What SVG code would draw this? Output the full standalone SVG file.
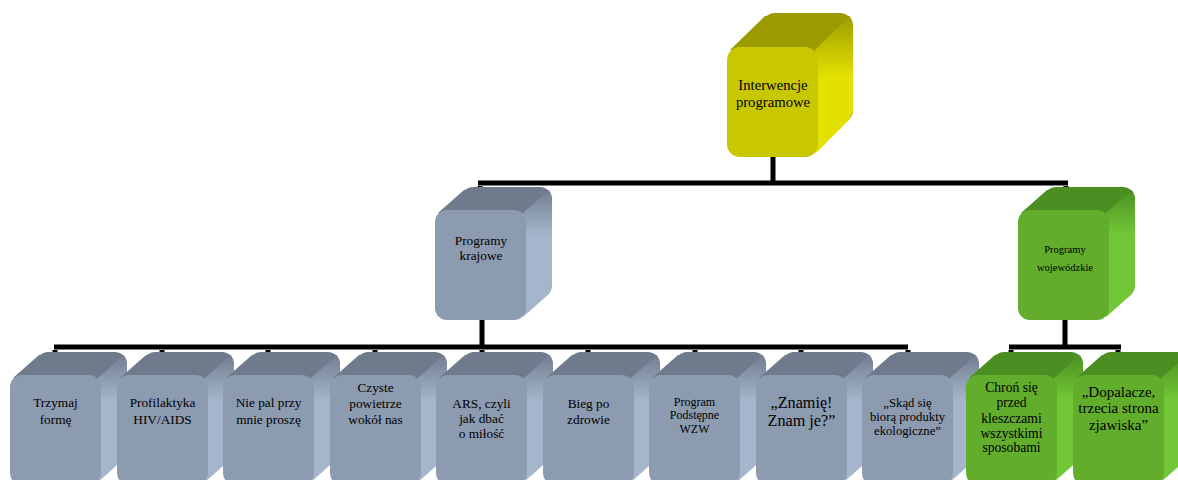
<svg xmlns="http://www.w3.org/2000/svg" width="1178" height="480" viewBox="0 0 1178 480" font-family="'Liberation Serif', 'Times New Roman', serif">
<style>
text{font-family:'Liberation Serif','Times New Roman',serif;fill:#000;text-anchor:middle;font-size:13.3px}
.c{fill:none;stroke:#000;stroke-width:5}
.gt{fill:#6F7B8D}.gf{fill:#8D9BB0}.gs{fill:url(#gs)}
.nt{fill:#4B8E22}.nf{fill:#62AD2B}.ns{fill:url(#ns)}
.yt{fill:#9B9B00}.yf{fill:#C9C700}.ys{fill:url(#ys)}
.f12{font-size:12px}.f127{font-size:12.7px}.f10{font-size:10.5px}.f14{font-size:14.7px}.f135{font-size:13.6px}.f15{font-size:15px}.f17{font-size:16.2px}
</style>
<defs>
<linearGradient id="gs" gradientUnits="userSpaceOnUse" x1="0" y1="-23" x2="0" y2="25"><stop offset="0" stop-color="#6F7B8D"/><stop offset="1" stop-color="#A5B5CB"/></linearGradient>
<linearGradient id="ns" gradientUnits="userSpaceOnUse" x1="0" y1="-23" x2="0" y2="25"><stop offset="0" stop-color="#4B8E22"/><stop offset="1" stop-color="#72C736"/></linearGradient>
<linearGradient id="ys" gradientUnits="userSpaceOnUse" x1="0" y1="-34" x2="0" y2="30"><stop offset="0" stop-color="#9B9B00"/><stop offset="1" stop-color="#E2E100"/></linearGradient>
</defs>
<g id="connectors">
<path class="c" d="M773,157V183M478,183H1068M480,186V212M1066,186V212"/>
<path class="c" d="M482,320V347M54,347H908M55,350V378M162,350V378M268,350V378M375,350V378M482,350V378M588,350V378M695,350V378M801,350V378M908,350V378"/>
<path class="c" d="M1065,320V347M1009,347H1121M1011,350V378M1118,350V378"/>
</g>
<g id="n-interwencje" transform="translate(727,47)">
<rect class="yt" x="35" y="-34" width="91" height="110" rx="13"/>
<polygon class="yt" points="3,3 38,-31 123,-31 88,3"/>
<polygon class="ys" points="88,3 123,-31 126,-20 126,64 122,73 88,107"/>
<rect class="yf" x="0" y="0" width="91" height="110" rx="13"/>
<text class="f14" x="46" y="43">Interwencje</text><text class="f14" x="46" y="60">programowe</text>
</g>
<g id="n-krajowe" transform="translate(435,210)">
<rect class="gt" x="26" y="-23" width="91" height="110" rx="12"/>
<polygon class="gt" points="3,3 29,-20 114,-20 88,3"/>
<polygon class="gs" points="88,3 114,-20 117,-10 117,76 114,84 88,107"/>
<rect class="gf" x="0" y="0" width="91" height="110" rx="12"/>
<text x="46" y="35">Programy</text><text x="46" y="50">krajowe</text>
</g>
<g id="n-wojewodzkie" transform="translate(1018,210)">
<rect class="nt" x="26" y="-23" width="91" height="110" rx="12"/>
<polygon class="nt" points="3,3 29,-20 114,-20 88,3"/>
<polygon class="ns" points="88,3 114,-20 117,-10 117,76 114,84 88,107"/>
<rect class="nf" x="0" y="0" width="91" height="110" rx="12"/>
<text class="f10" x="47" y="42.5">Programy</text><text class="f10" x="47" y="60.5">wojewódzkie</text>
</g>
<g id="n1" transform="translate(10,375)">
<rect class="gt" x="26" y="-23" width="91" height="110" rx="12"/>
<polygon class="gt" points="3,3 29,-20 114,-20 88,3"/>
<polygon class="gs" points="88,3 114,-20 117,-10 117,76 114,84 88,107"/>
<rect class="gf" x="0" y="0" width="91" height="110" rx="12"/>
<text x="45.5" y="32">Trzymaj</text><text x="45.5" y="49">formę</text>
</g>
<g id="n2" transform="translate(117,375)">
<rect class="gt" x="26" y="-23" width="91" height="110" rx="12"/>
<polygon class="gt" points="3,3 29,-20 114,-20 88,3"/>
<polygon class="gs" points="88,3 114,-20 117,-10 117,76 114,84 88,107"/>
<rect class="gf" x="0" y="0" width="91" height="110" rx="12"/>
<text x="45.5" y="32">Profilaktyka</text><text x="45.5" y="49">HIV/AIDS</text>
</g>
<g id="n3" transform="translate(223,375)">
<rect class="gt" x="26" y="-23" width="91" height="110" rx="12"/>
<polygon class="gt" points="3,3 29,-20 114,-20 88,3"/>
<polygon class="gs" points="88,3 114,-20 117,-10 117,76 114,84 88,107"/>
<rect class="gf" x="0" y="0" width="91" height="110" rx="12"/>
<text x="45.5" y="32">Nie pal przy</text><text x="45.5" y="49">mnie proszę</text>
</g>
<g id="n4" transform="translate(330,375)">
<rect class="gt" x="26" y="-23" width="91" height="110" rx="12"/>
<polygon class="gt" points="3,3 29,-20 114,-20 88,3"/>
<polygon class="gs" points="88,3 114,-20 117,-10 117,76 114,84 88,107"/>
<rect class="gf" x="0" y="0" width="91" height="110" rx="12"/>
<text x="45.5" y="17">Czyste</text><text x="45.5" y="33">powietrze</text><text x="45.5" y="49">wokół nas</text>
</g>
<g id="n5" transform="translate(436,375)">
<rect class="gt" x="26" y="-23" width="91" height="110" rx="12"/>
<polygon class="gt" points="3,3 29,-20 114,-20 88,3"/>
<polygon class="gs" points="88,3 114,-20 117,-10 117,76 114,84 88,107"/>
<rect class="gf" x="0" y="0" width="91" height="110" rx="12"/>
<text x="45.5" y="33">ARS, czyli</text><text x="45.5" y="48">jak dbać</text><text x="45.5" y="63">o miłość</text>
</g>
<g id="n6" transform="translate(543,375)">
<rect class="gt" x="26" y="-23" width="91" height="110" rx="12"/>
<polygon class="gt" points="3,3 29,-20 114,-20 88,3"/>
<polygon class="gs" points="88,3 114,-20 117,-10 117,76 114,84 88,107"/>
<rect class="gf" x="0" y="0" width="91" height="110" rx="12"/>
<text x="45.5" y="33">Bieg po</text><text x="45.5" y="49">zdrowie</text>
</g>
<g id="n7" transform="translate(649,375)">
<rect class="gt" x="26" y="-23" width="91" height="110" rx="12"/>
<polygon class="gt" points="3,3 29,-20 114,-20 88,3"/>
<polygon class="gs" points="88,3 114,-20 117,-10 117,76 114,84 88,107"/>
<rect class="gf" x="0" y="0" width="91" height="110" rx="12"/>
<text class="f12" x="45.5" y="31">Program</text><text class="f12" x="45.5" y="44">Podstępne</text><text class="f12" x="45.5" y="58">WZW</text>
</g>
<g id="n8" transform="translate(756,375)">
<rect class="gt" x="26" y="-23" width="91" height="110" rx="12"/>
<polygon class="gt" points="3,3 29,-20 114,-20 88,3"/>
<polygon class="gs" points="88,3 114,-20 117,-10 117,76 114,84 88,107"/>
<rect class="gf" x="0" y="0" width="91" height="110" rx="12"/>
<text class="f17" x="45.5" y="33">„Znamię!</text><text class="f17" x="45.5" y="51">Znam je?”</text>
</g>
<g id="n9" transform="translate(862,375)">
<rect class="gt" x="26" y="-23" width="91" height="110" rx="12"/>
<polygon class="gt" points="3,3 29,-20 114,-20 88,3"/>
<polygon class="gs" points="88,3 114,-20 117,-10 117,76 114,84 88,107"/>
<rect class="gf" x="0" y="0" width="91" height="110" rx="12"/>
<text class="f127" x="45.5" y="32">„Skąd się</text><text class="f127" x="45.5" y="46">biorą produkty</text><text class="f127" x="45.5" y="60">ekologiczne”</text>
</g>
<g id="n10" transform="translate(966,375)">
<rect class="nt" x="26" y="-23" width="91" height="110" rx="12"/>
<polygon class="nt" points="3,3 29,-20 114,-20 88,3"/>
<polygon class="ns" points="88,3 114,-20 117,-10 117,76 114,84 88,107"/>
<rect class="nf" x="0" y="0" width="91" height="110" rx="12"/>
<text class="f135" x="45.5" y="17">Chroń się</text><text class="f135" x="45.5" y="32">przed</text><text class="f135" x="45.5" y="48">kleszczami</text><text class="f135" x="45.5" y="63">wszystkimi</text><text class="f135" x="45.5" y="77">sposobami</text>
</g>
<g id="n11" transform="translate(1073,375)">
<rect class="nt" x="26" y="-23" width="91" height="110" rx="12"/>
<polygon class="nt" points="3,3 29,-20 114,-20 88,3"/>
<polygon class="ns" points="88,3 114,-20 117,-10 117,76 114,84 88,107"/>
<rect class="nf" x="0" y="0" width="91" height="110" rx="12"/>
<text class="f15" x="45.5" y="22">„Dopalacze,</text><text class="f15" x="45.5" y="38">trzecia strona</text><text class="f15" x="45.5" y="55">zjawiska”</text>
</g>
</svg>
